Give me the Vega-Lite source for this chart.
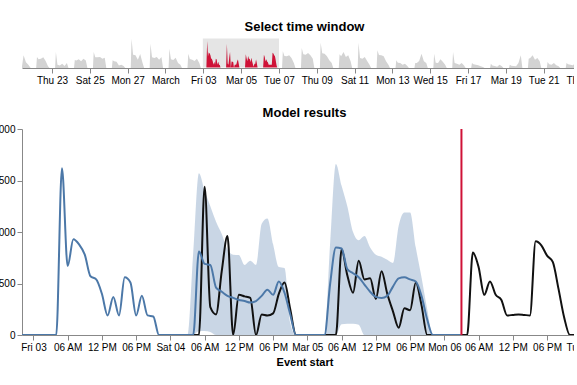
{
"$schema": "https://vega.github.io/schema/vega-lite/v6.json",
"padding": {"left": -11, "top": 21, "right": -24, "bottom": 5},
"spacing": 22,
"config": {"font": "Liberation Sans", "view": {"stroke": null}, "axis": {"grid": false}},
"datasets": {
"overview": [
{"t":"2023-02-21T10:00","v":100},{"t":"2023-02-21T12:00","v":760},{"t":"2023-02-21T15:00","v":350},{"t":"2023-02-21T18:00","v":200},{"t":"2023-02-21T21:00","v":0},
{"t":"2023-02-22T04:00","v":0},{"t":"2023-02-22T05:00","v":660},{"t":"2023-02-22T07:00","v":520},{"t":"2023-02-22T10:00","v":560},{"t":"2023-02-22T13:00","v":640},{"t":"2023-02-22T16:00","v":420},{"t":"2023-02-22T19:00","v":100},{"t":"2023-02-22T21:00","v":0},
{"t":"2023-02-23T04:00","v":0},{"t":"2023-02-23T05:00","v":960},{"t":"2023-02-23T07:00","v":200},{"t":"2023-02-23T10:00","v":150},{"t":"2023-02-23T13:00","v":250},{"t":"2023-02-23T16:00","v":120},{"t":"2023-02-23T19:00","v":300},{"t":"2023-02-23T21:00","v":0},
{"t":"2023-02-24T04:00","v":0},{"t":"2023-02-24T05:00","v":480},{"t":"2023-02-24T07:00","v":450},{"t":"2023-02-24T10:00","v":520},{"t":"2023-02-24T13:00","v":400},{"t":"2023-02-24T16:00","v":560},{"t":"2023-02-24T19:00","v":450},{"t":"2023-02-24T21:00","v":0},
{"t":"2023-02-25T04:00","v":0},{"t":"2023-02-25T05:00","v":960},{"t":"2023-02-25T07:00","v":640},{"t":"2023-02-25T10:00","v":640},{"t":"2023-02-25T13:00","v":660},{"t":"2023-02-25T16:00","v":560},{"t":"2023-02-25T19:00","v":620},{"t":"2023-02-25T21:00","v":0},
{"t":"2023-02-26T04:00","v":0},{"t":"2023-02-26T05:00","v":460},{"t":"2023-02-26T07:00","v":400},{"t":"2023-02-26T10:00","v":380},{"t":"2023-02-26T13:00","v":150},{"t":"2023-02-26T16:00","v":200},{"t":"2023-02-26T19:00","v":120},{"t":"2023-02-26T21:00","v":0},
{"t":"2023-02-27T04:00","v":0},{"t":"2023-02-27T05:00","v":1760},{"t":"2023-02-27T07:00","v":800},{"t":"2023-02-27T10:00","v":760},{"t":"2023-02-27T13:00","v":500},{"t":"2023-02-27T16:00","v":840},{"t":"2023-02-27T19:00","v":300},{"t":"2023-02-27T21:00","v":0},
{"t":"2023-02-28T04:00","v":0},{"t":"2023-02-28T05:00","v":1460},{"t":"2023-02-28T07:00","v":650},{"t":"2023-02-28T10:00","v":600},{"t":"2023-02-28T13:00","v":660},{"t":"2023-02-28T16:00","v":500},{"t":"2023-02-28T19:00","v":660},{"t":"2023-02-28T21:00","v":0},
{"t":"2023-03-01T04:00","v":0},{"t":"2023-03-01T05:00","v":1160},{"t":"2023-03-01T07:00","v":520},{"t":"2023-03-01T10:00","v":480},{"t":"2023-03-01T13:00","v":620},{"t":"2023-03-01T16:00","v":300},{"t":"2023-03-01T19:00","v":200},{"t":"2023-03-01T21:00","v":0},
{"t":"2023-03-02T04:00","v":0},{"t":"2023-03-02T05:00","v":860},{"t":"2023-03-02T07:00","v":540},{"t":"2023-03-02T10:00","v":500},{"t":"2023-03-02T13:00","v":420},{"t":"2023-03-02T16:00","v":560},{"t":"2023-03-02T19:00","v":300},{"t":"2023-03-02T21:00","v":0},
{"t":"2023-03-02T22:00","v":0},{"t":"2023-03-02T23:00","v":0},
{"t":"2023-03-03T00:00","v":0},{"t":"2023-03-03T01:00","v":0},{"t":"2023-03-03T02:00","v":0},{"t":"2023-03-03T03:00","v":0},{"t":"2023-03-03T04:00","v":0},{"t":"2023-03-03T05:00","v":1620},{"t":"2023-03-03T06:00","v":670},{"t":"2023-03-03T07:00","v":930},{"t":"2023-03-03T08:00","v":880},{"t":"2023-03-03T09:00","v":780},{"t":"2023-03-03T10:00","v":570},{"t":"2023-03-03T11:00","v":540},{"t":"2023-03-03T12:00","v":400},{"t":"2023-03-03T13:00","v":190},{"t":"2023-03-03T14:00","v":370},{"t":"2023-03-03T15:00","v":190},{"t":"2023-03-03T16:00","v":560},{"t":"2023-03-03T17:00","v":510},{"t":"2023-03-03T18:00","v":190},{"t":"2023-03-03T19:00","v":380},{"t":"2023-03-03T20:00","v":190},{"t":"2023-03-03T21:00","v":180},{"t":"2023-03-03T22:00","v":0},{"t":"2023-03-03T23:00","v":0},
{"t":"2023-03-04T00:00","v":0},{"t":"2023-03-04T01:00","v":0},{"t":"2023-03-04T02:00","v":0},{"t":"2023-03-04T03:00","v":0},{"t":"2023-03-04T04:00","v":0},{"t":"2023-03-04T05:00","v":0},{"t":"2023-03-04T06:00","v":1440},{"t":"2023-03-04T07:00","v":270},{"t":"2023-03-04T08:00","v":200},{"t":"2023-03-04T09:00","v":620},{"t":"2023-03-04T10:00","v":960},{"t":"2023-03-04T11:00","v":0},{"t":"2023-03-04T12:00","v":390},{"t":"2023-03-04T13:00","v":375},{"t":"2023-03-04T14:00","v":360},{"t":"2023-03-04T15:00","v":0},{"t":"2023-03-04T16:00","v":200},{"t":"2023-03-04T17:00","v":190},{"t":"2023-03-04T18:00","v":210},{"t":"2023-03-04T19:00","v":400},{"t":"2023-03-04T20:00","v":510},{"t":"2023-03-04T21:00","v":250},{"t":"2023-03-04T22:00","v":0},{"t":"2023-03-04T23:00","v":0},
{"t":"2023-03-05T00:00","v":0},{"t":"2023-03-05T01:00","v":0},{"t":"2023-03-05T02:00","v":0},{"t":"2023-03-05T03:00","v":0},{"t":"2023-03-05T04:00","v":0},{"t":"2023-03-05T05:00","v":0},{"t":"2023-03-05T06:00","v":830},{"t":"2023-03-05T07:00","v":580},{"t":"2023-03-05T08:00","v":410},{"t":"2023-03-05T09:00","v":720},{"t":"2023-03-05T10:00","v":540},{"t":"2023-03-05T11:00","v":550},{"t":"2023-03-05T12:00","v":350},{"t":"2023-03-05T13:00","v":620},{"t":"2023-03-05T14:00","v":400},{"t":"2023-03-05T15:00","v":230},{"t":"2023-03-05T16:00","v":70},{"t":"2023-03-05T17:00","v":260},{"t":"2023-03-05T18:00","v":240},{"t":"2023-03-05T19:00","v":510},{"t":"2023-03-05T20:00","v":290},{"t":"2023-03-05T21:00","v":0},{"t":"2023-03-05T22:00","v":0},{"t":"2023-03-05T23:00","v":0},
{"t":"2023-03-06T00:00","v":0},{"t":"2023-03-06T01:00","v":0},{"t":"2023-03-06T02:00","v":0},{"t":"2023-03-06T03:00","v":0},{"t":"2023-03-06T04:00","v":0},{"t":"2023-03-06T05:00","v":800},{"t":"2023-03-06T06:00","v":660},{"t":"2023-03-06T07:00","v":390},{"t":"2023-03-06T08:00","v":520},{"t":"2023-03-06T09:00","v":390},{"t":"2023-03-06T10:00","v":340},{"t":"2023-03-06T11:00","v":190},{"t":"2023-03-06T12:00","v":195},{"t":"2023-03-06T13:00","v":200},{"t":"2023-03-06T14:00","v":195},{"t":"2023-03-06T15:00","v":190},{"t":"2023-03-06T16:00","v":910},{"t":"2023-03-06T17:00","v":870},{"t":"2023-03-06T18:00","v":770},{"t":"2023-03-06T19:00","v":710},{"t":"2023-03-06T20:00","v":450},{"t":"2023-03-06T21:00","v":170},{"t":"2023-03-06T22:00","v":0},{"t":"2023-03-06T23:00","v":0},
{"t":"2023-03-07T00:00","v":0},{"t":"2023-03-07T01:00","v":0},
{"t":"2023-03-07T04:00","v":0},{"t":"2023-03-07T05:00","v":1000},{"t":"2023-03-07T07:00","v":720},{"t":"2023-03-07T10:00","v":700},{"t":"2023-03-07T13:00","v":760},{"t":"2023-03-07T16:00","v":600},{"t":"2023-03-07T19:00","v":300},{"t":"2023-03-07T21:00","v":0},
{"t":"2023-03-08T04:00","v":0},{"t":"2023-03-08T05:00","v":1200},{"t":"2023-03-08T07:00","v":820},{"t":"2023-03-08T10:00","v":800},{"t":"2023-03-08T13:00","v":900},{"t":"2023-03-08T16:00","v":760},{"t":"2023-03-08T19:00","v":560},{"t":"2023-03-08T21:00","v":0},
{"t":"2023-03-09T04:00","v":0},{"t":"2023-03-09T05:00","v":1520},{"t":"2023-03-09T07:00","v":880},{"t":"2023-03-09T10:00","v":860},{"t":"2023-03-09T13:00","v":700},{"t":"2023-03-09T16:00","v":460},{"t":"2023-03-09T19:00","v":300},{"t":"2023-03-09T21:00","v":0},
{"t":"2023-03-10T04:00","v":0},{"t":"2023-03-10T05:00","v":820},{"t":"2023-03-10T07:00","v":700},{"t":"2023-03-10T10:00","v":960},{"t":"2023-03-10T13:00","v":660},{"t":"2023-03-10T16:00","v":760},{"t":"2023-03-10T19:00","v":400},{"t":"2023-03-10T21:00","v":0},
{"t":"2023-03-11T04:00","v":0},{"t":"2023-03-11T05:00","v":1520},{"t":"2023-03-11T07:00","v":600},{"t":"2023-03-11T10:00","v":560},{"t":"2023-03-11T13:00","v":660},{"t":"2023-03-11T16:00","v":420},{"t":"2023-03-11T19:00","v":200},{"t":"2023-03-11T21:00","v":0},
{"t":"2023-03-12T04:00","v":0},{"t":"2023-03-12T05:00","v":1060},{"t":"2023-03-12T07:00","v":780},{"t":"2023-03-12T10:00","v":760},{"t":"2023-03-12T13:00","v":700},{"t":"2023-03-12T16:00","v":400},{"t":"2023-03-12T19:00","v":200},{"t":"2023-03-12T21:00","v":0},
{"t":"2023-03-13T04:00","v":0},{"t":"2023-03-13T05:00","v":460},{"t":"2023-03-13T07:00","v":320},{"t":"2023-03-13T10:00","v":300},{"t":"2023-03-13T13:00","v":200},{"t":"2023-03-13T16:00","v":260},{"t":"2023-03-13T19:00","v":120},{"t":"2023-03-13T21:00","v":0},
{"t":"2023-03-14T04:00","v":0},{"t":"2023-03-14T05:00","v":300},{"t":"2023-03-14T07:00","v":300},{"t":"2023-03-14T10:00","v":420},{"t":"2023-03-14T13:00","v":860},{"t":"2023-03-14T16:00","v":400},{"t":"2023-03-14T19:00","v":300},{"t":"2023-03-14T21:00","v":0},
{"t":"2023-03-15T04:00","v":0},{"t":"2023-03-15T05:00","v":860},{"t":"2023-03-15T07:00","v":320},{"t":"2023-03-15T10:00","v":300},{"t":"2023-03-15T13:00","v":520},{"t":"2023-03-15T16:00","v":380},{"t":"2023-03-15T19:00","v":200},{"t":"2023-03-15T21:00","v":0},
{"t":"2023-03-16T04:00","v":0},{"t":"2023-03-16T05:00","v":960},{"t":"2023-03-16T07:00","v":300},{"t":"2023-03-16T10:00","v":260},{"t":"2023-03-16T13:00","v":200},{"t":"2023-03-16T16:00","v":300},{"t":"2023-03-16T19:00","v":150},{"t":"2023-03-16T21:00","v":0},
{"t":"2023-03-17T04:00","v":0},{"t":"2023-03-17T05:00","v":300},{"t":"2023-03-17T07:00","v":220},{"t":"2023-03-17T10:00","v":200},{"t":"2023-03-17T13:00","v":160},{"t":"2023-03-17T16:00","v":100},{"t":"2023-03-17T19:00","v":60},{"t":"2023-03-17T21:00","v":0},
{"t":"2023-03-18T04:00","v":0},{"t":"2023-03-18T05:00","v":260},{"t":"2023-03-18T07:00","v":150},{"t":"2023-03-18T10:00","v":120},{"t":"2023-03-18T13:00","v":80},{"t":"2023-03-18T16:00","v":200},{"t":"2023-03-18T19:00","v":100},{"t":"2023-03-18T21:00","v":0},
{"t":"2023-03-19T04:00","v":0},{"t":"2023-03-19T05:00","v":200},{"t":"2023-03-19T07:00","v":140},{"t":"2023-03-19T10:00","v":120},{"t":"2023-03-19T13:00","v":100},{"t":"2023-03-19T16:00","v":300},{"t":"2023-03-19T19:00","v":760},{"t":"2023-03-19T21:00","v":0},
{"t":"2023-03-20T04:00","v":0},{"t":"2023-03-20T05:00","v":560},{"t":"2023-03-20T07:00","v":600},{"t":"2023-03-20T10:00","v":760},{"t":"2023-03-20T13:00","v":500},{"t":"2023-03-20T16:00","v":600},{"t":"2023-03-20T19:00","v":400},{"t":"2023-03-20T21:00","v":0},
{"t":"2023-03-21T04:00","v":0},{"t":"2023-03-21T05:00","v":360},{"t":"2023-03-21T07:00","v":220},{"t":"2023-03-21T10:00","v":200},{"t":"2023-03-21T13:00","v":300},{"t":"2023-03-21T16:00","v":160},{"t":"2023-03-21T19:00","v":100},{"t":"2023-03-21T21:00","v":0},
{"t":"2023-03-22T04:00","v":0},{"t":"2023-03-22T05:00","v":300},{"t":"2023-03-22T07:00","v":220},{"t":"2023-03-22T10:00","v":200},{"t":"2023-03-22T13:00","v":160},{"t":"2023-03-22T16:00","v":300},{"t":"2023-03-22T19:00","v":160},{"t":"2023-03-22T21:00","v":0},
{"t":"2023-03-23T04:00","v":0},{"t":"2023-03-23T07:00","v":0}
],
"model": [
{"t":"2023-03-02T22:00","pred":0,"lo":0,"hi":0,"act":null},{"t":"2023-03-02T23:00","pred":0,"lo":0,"hi":0,"act":null},
{"t":"2023-03-03T00:00","pred":0,"lo":0,"hi":0,"act":null},{"t":"2023-03-03T01:00","pred":0,"lo":0,"hi":0,"act":null},{"t":"2023-03-03T02:00","pred":0,"lo":0,"hi":0,"act":null},{"t":"2023-03-03T03:00","pred":0,"lo":0,"hi":0,"act":null},{"t":"2023-03-03T04:00","pred":0,"lo":0,"hi":0,"act":null},{"t":"2023-03-03T05:00","pred":1620,"lo":0,"hi":0,"act":null},{"t":"2023-03-03T06:00","pred":670,"lo":0,"hi":0,"act":null},{"t":"2023-03-03T07:00","pred":930,"lo":0,"hi":0,"act":null},{"t":"2023-03-03T08:00","pred":880,"lo":0,"hi":0,"act":null},{"t":"2023-03-03T09:00","pred":780,"lo":0,"hi":0,"act":null},{"t":"2023-03-03T10:00","pred":570,"lo":0,"hi":0,"act":null},{"t":"2023-03-03T11:00","pred":540,"lo":0,"hi":0,"act":null},{"t":"2023-03-03T12:00","pred":400,"lo":0,"hi":0,"act":null},{"t":"2023-03-03T13:00","pred":190,"lo":0,"hi":0,"act":null},{"t":"2023-03-03T14:00","pred":370,"lo":0,"hi":0,"act":null},{"t":"2023-03-03T15:00","pred":190,"lo":0,"hi":0,"act":null},{"t":"2023-03-03T16:00","pred":560,"lo":0,"hi":0,"act":null},{"t":"2023-03-03T17:00","pred":510,"lo":0,"hi":0,"act":null},{"t":"2023-03-03T18:00","pred":190,"lo":0,"hi":0,"act":null},{"t":"2023-03-03T19:00","pred":380,"lo":0,"hi":0,"act":null},{"t":"2023-03-03T20:00","pred":190,"lo":0,"hi":0,"act":null},{"t":"2023-03-03T21:00","pred":180,"lo":0,"hi":0,"act":null},{"t":"2023-03-03T22:00","pred":0,"lo":0,"hi":0,"act":null},{"t":"2023-03-03T23:00","pred":0,"lo":0,"hi":0,"act":null},
{"t":"2023-03-04T00:00","pred":0,"lo":0,"hi":0,"act":0},{"t":"2023-03-04T01:00","pred":0,"lo":0,"hi":0,"act":0},{"t":"2023-03-04T02:00","pred":0,"lo":0,"hi":0,"act":0},{"t":"2023-03-04T03:00","pred":0,"lo":0,"hi":0,"act":0},{"t":"2023-03-04T04:00","pred":0,"lo":0,"hi":800,"act":0},{"t":"2023-03-04T05:00","pred":810,"lo":40,"hi":1570,"act":0},{"t":"2023-03-04T06:00","pred":690,"lo":40,"hi":1400,"act":1440},{"t":"2023-03-04T07:00","pred":680,"lo":30,"hi":1250,"act":270},{"t":"2023-03-04T08:00","pred":460,"lo":0,"hi":1100,"act":200},{"t":"2023-03-04T09:00","pred":420,"lo":0,"hi":980,"act":620},{"t":"2023-03-04T10:00","pred":380,"lo":0,"hi":830,"act":960},{"t":"2023-03-04T11:00","pred":360,"lo":0,"hi":780,"act":0},{"t":"2023-03-04T12:00","pred":340,"lo":0,"hi":776,"act":390},{"t":"2023-03-04T13:00","pred":330,"lo":0,"hi":680,"act":375},{"t":"2023-03-04T14:00","pred":315,"lo":0,"hi":720,"act":360},{"t":"2023-03-04T15:00","pred":330,"lo":0,"hi":680,"act":0},{"t":"2023-03-04T16:00","pred":380,"lo":0,"hi":1080,"act":200},{"t":"2023-03-04T17:00","pred":440,"lo":0,"hi":1130,"act":190},{"t":"2023-03-04T18:00","pred":390,"lo":0,"hi":880,"act":210},{"t":"2023-03-04T19:00","pred":520,"lo":0,"hi":660,"act":400},{"t":"2023-03-04T20:00","pred":410,"lo":0,"hi":650,"act":510},{"t":"2023-03-04T21:00","pred":200,"lo":0,"hi":120,"act":250},{"t":"2023-03-04T22:00","pred":0,"lo":0,"hi":0,"act":0},{"t":"2023-03-04T23:00","pred":0,"lo":0,"hi":0,"act":0},
{"t":"2023-03-05T00:00","pred":0,"lo":0,"hi":0,"act":0},{"t":"2023-03-05T01:00","pred":0,"lo":0,"hi":0,"act":0},{"t":"2023-03-05T02:00","pred":0,"lo":0,"hi":0,"act":0},{"t":"2023-03-05T03:00","pred":0,"lo":0,"hi":0,"act":0},{"t":"2023-03-05T04:00","pred":500,"lo":0,"hi":900,"act":0},{"t":"2023-03-05T05:00","pred":850,"lo":0,"hi":1660,"act":0},{"t":"2023-03-05T06:00","pred":840,"lo":105,"hi":1450,"act":830},{"t":"2023-03-05T07:00","pred":640,"lo":110,"hi":1250,"act":580},{"t":"2023-03-05T08:00","pred":600,"lo":110,"hi":1000,"act":410},{"t":"2023-03-05T09:00","pred":560,"lo":100,"hi":920,"act":720},{"t":"2023-03-05T10:00","pred":490,"lo":0,"hi":960,"act":540},{"t":"2023-03-05T11:00","pred":420,"lo":0,"hi":850,"act":550},{"t":"2023-03-05T12:00","pred":370,"lo":0,"hi":780,"act":350},{"t":"2023-03-05T13:00","pred":360,"lo":0,"hi":760,"act":620},{"t":"2023-03-05T14:00","pred":380,"lo":0,"hi":730,"act":400},{"t":"2023-03-05T15:00","pred":470,"lo":0,"hi":700,"act":230},{"t":"2023-03-05T16:00","pred":550,"lo":0,"hi":1060,"act":70},{"t":"2023-03-05T17:00","pred":560,"lo":0,"hi":1190,"act":260},{"t":"2023-03-05T18:00","pred":540,"lo":0,"hi":1190,"act":240},{"t":"2023-03-05T19:00","pred":520,"lo":0,"hi":850,"act":510},{"t":"2023-03-05T20:00","pred":380,"lo":0,"hi":560,"act":290},{"t":"2023-03-05T21:00","pred":150,"lo":0,"hi":250,"act":0},{"t":"2023-03-05T22:00","pred":0,"lo":0,"hi":0,"act":0},{"t":"2023-03-05T23:00","pred":0,"lo":0,"hi":0,"act":0},
{"t":"2023-03-06T00:00","pred":0,"lo":0,"hi":0,"act":0},{"t":"2023-03-06T01:00","pred":0,"lo":0,"hi":0,"act":0},{"t":"2023-03-06T02:00","pred":0,"lo":0,"hi":0,"act":0},{"t":"2023-03-06T03:00","pred":0,"lo":0,"hi":0,"act":0},{"t":"2023-03-06T04:00","pred":null,"lo":null,"hi":null,"act":0},{"t":"2023-03-06T05:00","pred":null,"lo":null,"hi":null,"act":800},{"t":"2023-03-06T06:00","pred":null,"lo":null,"hi":null,"act":660},{"t":"2023-03-06T07:00","pred":null,"lo":null,"hi":null,"act":390},{"t":"2023-03-06T08:00","pred":null,"lo":null,"hi":null,"act":520},{"t":"2023-03-06T09:00","pred":null,"lo":null,"hi":null,"act":390},{"t":"2023-03-06T10:00","pred":null,"lo":null,"hi":null,"act":340},{"t":"2023-03-06T11:00","pred":null,"lo":null,"hi":null,"act":190},{"t":"2023-03-06T12:00","pred":null,"lo":null,"hi":null,"act":195},{"t":"2023-03-06T13:00","pred":null,"lo":null,"hi":null,"act":200},{"t":"2023-03-06T14:00","pred":null,"lo":null,"hi":null,"act":195},{"t":"2023-03-06T15:00","pred":null,"lo":null,"hi":null,"act":190},{"t":"2023-03-06T16:00","pred":null,"lo":null,"hi":null,"act":910},{"t":"2023-03-06T17:00","pred":null,"lo":null,"hi":null,"act":870},{"t":"2023-03-06T18:00","pred":null,"lo":null,"hi":null,"act":770},{"t":"2023-03-06T19:00","pred":null,"lo":null,"hi":null,"act":710},{"t":"2023-03-06T20:00","pred":null,"lo":null,"hi":null,"act":450},{"t":"2023-03-06T21:00","pred":null,"lo":null,"hi":null,"act":170},{"t":"2023-03-06T22:00","pred":null,"lo":null,"hi":null,"act":0},{"t":"2023-03-06T23:00","pred":null,"lo":null,"hi":null,"act":0},
{"t":"2023-03-07T00:00","pred":null,"lo":null,"hi":null,"act":0},{"t":"2023-03-07T01:00","pred":null,"lo":null,"hi":null,"act":0}
],
"now": [{"t":"2023-03-06T03:00"}]
},
"vconcat": [
{
"title": "Select time window",
"width": 565,
"height": 30,
"data": {"name": "overview"},
"encoding": {
"x": {"field": "t", "type": "temporal", "title": null},
"y": {"field": "v", "type": "quantitative", "axis": null, "scale": {"domain": [0, 1800]}}
},
"layer": [
{
"params": [{"name": "brush", "select": {"type": "interval", "encodings": ["x"]}, "value": {"x": [{"year": 2023, "month": 3, "date": 2, "hours": 22, "minutes": 47}, {"year": 2023, "month": 3, "date": 7, "hours": 0, "minutes": 46}]}}],
"mark": {"type": "area", "color": "#d3d3d3"}
},
{
"transform": [{"filter": {"param": "brush"}}],
"mark": {"type": "area", "color": "#cf1237"}
}
]
},
{
"title": "Model results",
"width": 565,
"height": 206,
"data": {"name": "model"},
"layer": [
{
"mark": {"type": "area", "clip": true, "interpolate": "monotone", "color": "#4c78a8", "opacity": 0.3},
"encoding": {
"x": {"field": "t", "type": "temporal", "title": "Event start", "scale": {"domain": {"param": "brush"}}},
"y": {"field": "lo", "type": "quantitative", "title": null, "scale": {"domain": [0, 2000]}},
"y2": {"field": "hi"}
}
},
{
"mark": {"type": "line", "clip": true, "interpolate": "monotone", "color": "#111111", "strokeWidth": 2},
"encoding": {
"x": {"field": "t", "type": "temporal"},
"y": {"field": "act", "type": "quantitative"}
}
},
{
"mark": {"type": "line", "clip": true, "interpolate": "monotone", "color": "#4c78a8", "strokeWidth": 2},
"encoding": {
"x": {"field": "t", "type": "temporal"},
"y": {"field": "pred", "type": "quantitative"}
}
},
{
"data": {"name": "now"},
"mark": {"type": "rule", "clip": true, "color": "#cf1237", "strokeWidth": 2},
"encoding": {
"x": {"field": "t", "type": "temporal"}
}
}
]
}
]
}
